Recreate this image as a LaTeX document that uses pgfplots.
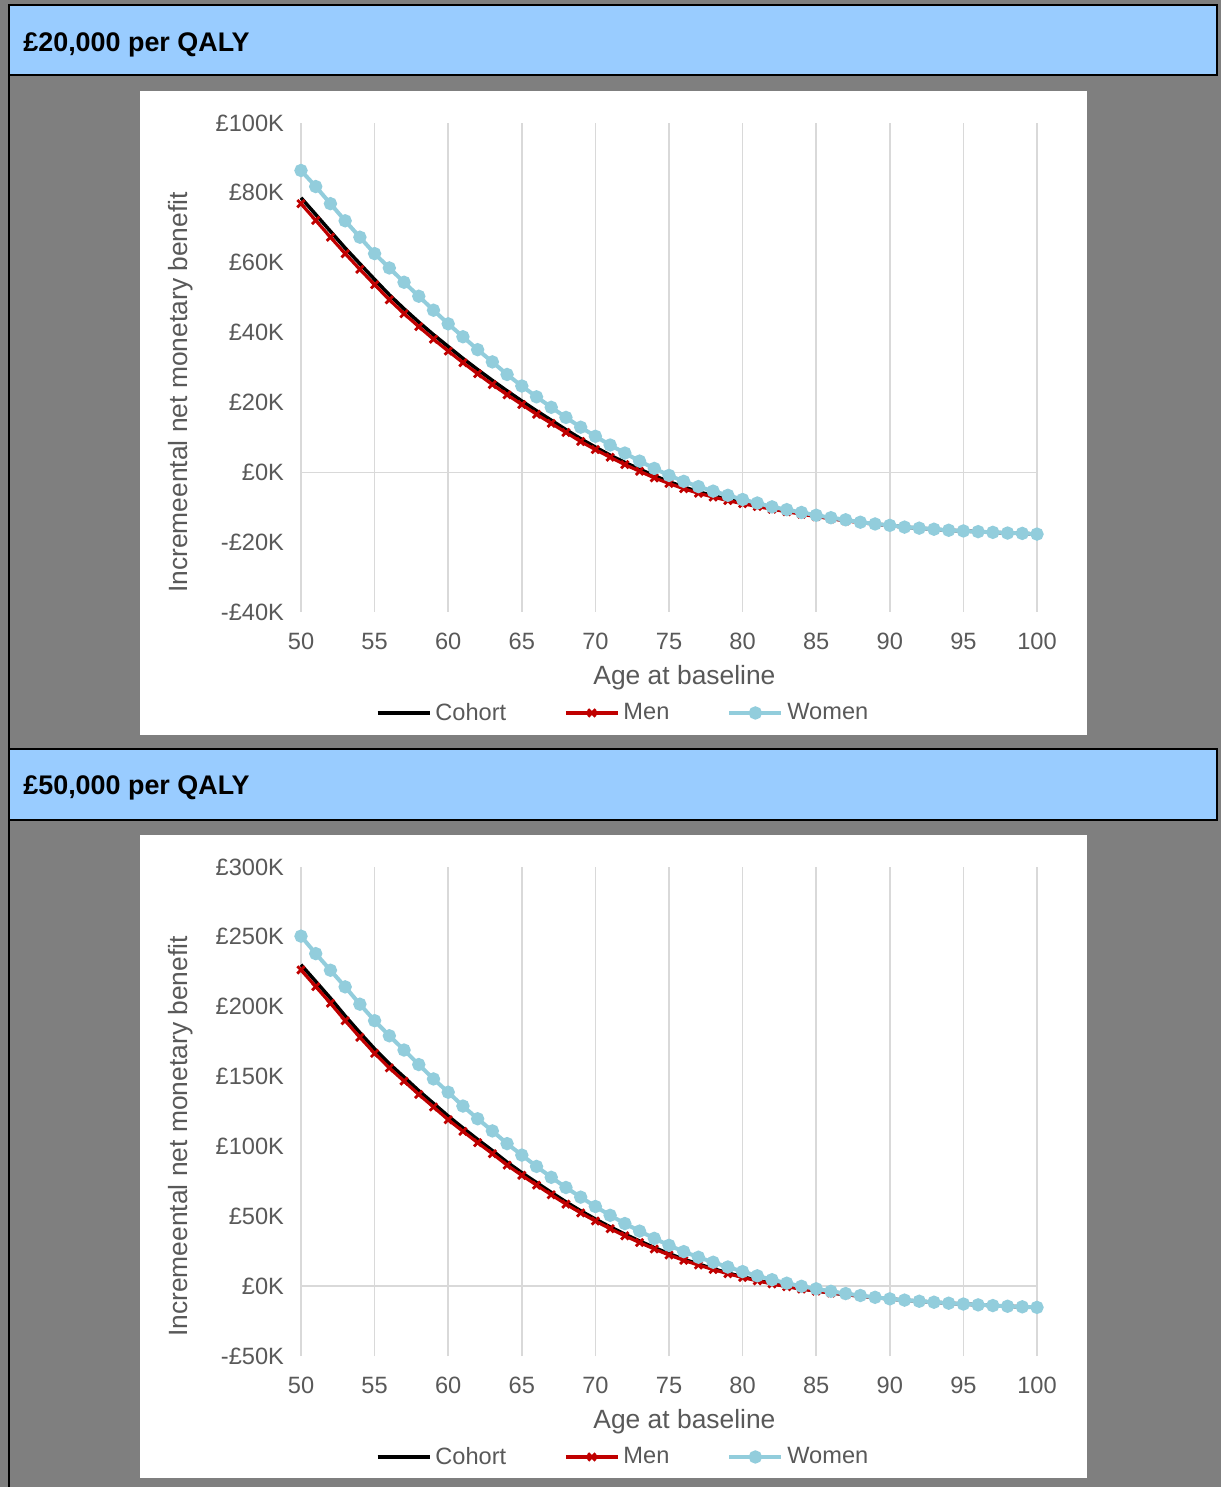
\documentclass[border=0pt]{standalone}
\usepackage{fontspec}
\setmainfont{Liberation Sans}
\usepackage{pgfplots}
\usepackage{pgfplotstable}
\pgfplotsset{compat=1.18}
\definecolor{menred}{HTML}{C00000}
\definecolor{womenblue}{HTML}{92CDDC}
\definecolor{gridgray}{HTML}{D9D9D9}
\definecolor{ticktext}{HTML}{595959}
\definecolor{headerblue}{HTML}{99CCFF}
\definecolor{bggray}{HTML}{7F7F7F}

\pgfplotstableread{
age cohort men women
50 78.6 76.9 86.4
51 73.8 72.1 81.8
52 69.0 67.3 76.9
53 64.2 62.6 72.0
54 59.7 58.1 67.3
55 55.2 53.7 62.6
56 50.8 49.4 58.5
57 46.8 45.4 54.4
58 43.0 41.7 50.4
59 39.4 38.1 46.4
60 36.0 34.7 42.5
61 32.6 31.4 38.8
62 29.4 28.2 35.1
63 26.3 25.1 31.6
64 23.3 22.2 28.0
65 20.4 19.4 24.7
66 17.6 16.6 21.6
67 14.9 14.0 18.6
68 12.2 11.4 15.7
69 9.6 8.8 12.9
70 7.2 6.5 10.3
71 4.9 4.3 7.8
72 2.8 2.2 5.5
73 0.9 0.3 3.2
74 -1.0 -1.6 1.1
75 -2.7 -3.2 -0.9
76 -4.2 -4.7 -2.6
77 -5.6 -6.0 -4.1
78 -6.7 -7.1 -5.4
79 -7.8 -8.1 -6.6
80 -8.7 -9.0 -7.8
81 -9.5 -9.8 -8.8
82 -10.3 -10.6 -9.9
83 -11.1 -11.3 -10.7
84 -11.8 -12.0 -11.5
85 -12.5 -12.7 -12.3
86 -13.2 -13.3 -13.0
87 -13.8 -13.9 -13.6
88 -14.3 -14.4 -14.3
89 -14.8 -14.9 -14.8
90 -15.2 -15.3 -15.2
91 -15.7 -15.7 -15.7
92 -16.0 -16.0 -16.0
93 -16.3 -16.3 -16.3
94 -16.6 -16.6 -16.6
95 -16.8 -16.8 -16.8
96 -17.0 -17.0 -17.0
97 -17.2 -17.2 -17.2
98 -17.4 -17.4 -17.4
99 -17.5 -17.5 -17.5
100 -17.7 -17.7 -17.7
}\tabA

\pgfplotstableread{
age cohort men women
50 230.1 226.3 250.5
51 218.1 214.4 238.0
52 206.1 202.5 226.1
53 193.4 190.0 214.2
54 181.4 178.1 201.8
55 169.8 166.6 190.0
56 159.2 156.2 179.2
57 149.6 146.7 169.0
58 139.9 137.2 158.6
59 130.8 128.2 148.3
60 121.7 119.1 138.8
61 113.2 110.8 128.9
62 105.0 102.7 119.8
63 97.0 94.8 111.1
64 88.7 86.6 102.0
65 81.2 79.3 93.8
66 74.1 72.3 85.7
67 67.1 65.4 77.9
68 60.3 58.7 70.6
69 53.9 52.4 63.7
70 48.0 46.6 57.0
71 42.4 41.1 50.7
72 37.2 36.0 44.8
73 32.3 31.2 39.4
74 27.6 26.6 34.2
75 23.2 22.3 29.2
76 19.3 18.5 24.7
77 15.8 15.1 20.7
78 12.5 11.9 17.1
79 9.4 8.9 13.7
80 6.7 6.2 10.4
81 4.2 3.8 7.4
82 1.9 1.6 4.6
83 -0.1 -0.4 2.1
84 -1.9 -2.1 -0.1
85 -3.4 -3.6 -1.9
86 -4.8 -4.9 -3.7
87 -6.0 -6.1 -5.3
88 -7.1 -7.2 -6.7
89 -8.1 -8.2 -8.0
90 -9.2 -9.2 -9.1
91 -10.0 -10.0 -10.0
92 -10.8 -10.8 -10.8
93 -11.5 -11.5 -11.5
94 -12.2 -12.2 -12.2
95 -12.8 -12.8 -12.8
96 -13.4 -13.4 -13.4
97 -13.9 -13.9 -13.9
98 -14.4 -14.4 -14.4
99 -14.8 -14.8 -14.8
100 -15.2 -15.2 -15.2
}\tabB

\pgfplotsset{nmb/.style={
  scale only axis, width=368pt, height=244.5pt,
  anchor=south west,
  xmin=50, xmax=100, xtick={50,55,...,100},
  xticklabels={50,55,60,65,70,75,80,85,90,95,100},
  axis line style={draw=none}, major tick length=0pt,
  xmajorgrids, major grid style={draw=gridgray, line width=0.75pt},
  tick label style={font=\fontsize{11.8}{14}\selectfont, color=ticktext},
  xticklabel style={yshift=-7pt},
  yticklabel style={xshift=-5pt},
  label style={font=\fontsize{13.2}{15}\selectfont, color=ticktext},
  xlabel={Age at baseline}, ylabel={Incremeental net monetary benefit},
  xlabel style={at={(axis description cs:0.521,0)}, anchor=center, yshift=-33pt},
  ylabel style={at={(axis description cs:-0.163,0.449)}, anchor=center},
  clip=false,
  /pgf/number format/assume math mode=true,
  legend columns=3,
  legend style={at={(axis description cs:0.439,-0.2065)}, anchor=center,
    draw=none, fill=none, font=\fontsize{11.8}{13}\selectfont, text=ticktext,
    /tikz/every even column/.append style={column sep=27pt}},
  legend image code/.code={\draw[mark repeat=2,mark phase=2,##1] plot coordinates {(0pt,0pt) (13pt,0pt) (26pt,0pt)};},
  cohortst/.style={black, line width=1.75pt, no markers},
  menst/.style={menred, line width=1.6pt, mark=x, mark size=2.6pt, mark options={line width=1.4pt}},
  womenst/.style={womenblue, line width=2pt, mark=*, mark size=2.3pt},
}}

\begin{document}
\begin{tikzpicture}
\useasboundingbox (0,0) rectangle (610.5pt,743.5pt);
\fill[bggray] (0,0) rectangle (610.5pt,743.5pt);
\fill[white] (70pt,376pt) rectangle (543.5pt,698pt);
\fill[white] (70pt,4.5pt) rectangle (543.5pt,326pt);
\filldraw[fill=headerblue, draw=black, line width=1pt] (4.5pt,706pt) rectangle (608.5pt,741pt);
\filldraw[fill=headerblue, draw=black, line width=1pt] (4.5pt,333.5pt) rectangle (608.5pt,369pt);
\draw[black, line width=1pt] (4.5pt,0pt) -- (4.5pt,741pt);
\node[anchor=base west, font=\fontsize{13.45}{15}\selectfont\bfseries, inner sep=0pt] at (11.5pt,717.5pt) {£20,000 per QALY};
\node[anchor=base west, font=\fontsize{13.45}{15}\selectfont\bfseries, inner sep=0pt] at (11.5pt,346pt) {£50,000 per QALY};

\begin{axis}[nmb, at={(150.5pt,437.5pt)},
  ymin=-40, ymax=100, ytick={-40,-20,0,20,40,60,80,100},
  yticklabels={-£40K,-£20K,£0K,£20K,£40K,£60K,£80K,£100K}]
\addplot[gridgray, line width=0.75pt, forget plot] coordinates {(50,0) (100,0)};
\addplot[cohortst] table[x=age,y=cohort]{\tabA};
\addplot[menst] table[x=age,y=men]{\tabA};
\addplot[womenst] table[x=age,y=women]{\tabA};
\legend{Cohort,Men,Women}
\end{axis}

\begin{axis}[nmb, at={(150.5pt,65.5pt)},
  ymin=-50, ymax=300, ytick={-50,0,50,100,150,200,250,300},
  yticklabels={-£50K,£0K,£50K,£100K,£150K,£200K,£250K,£300K}]
\addplot[gridgray, line width=0.75pt, forget plot] coordinates {(50,0) (100,0)};
\addplot[cohortst] table[x=age,y=cohort]{\tabB};
\addplot[menst] table[x=age,y=men]{\tabB};
\addplot[womenst] table[x=age,y=women]{\tabB};
\legend{Cohort,Men,Women}
\end{axis}
\end{tikzpicture}
\end{document}
